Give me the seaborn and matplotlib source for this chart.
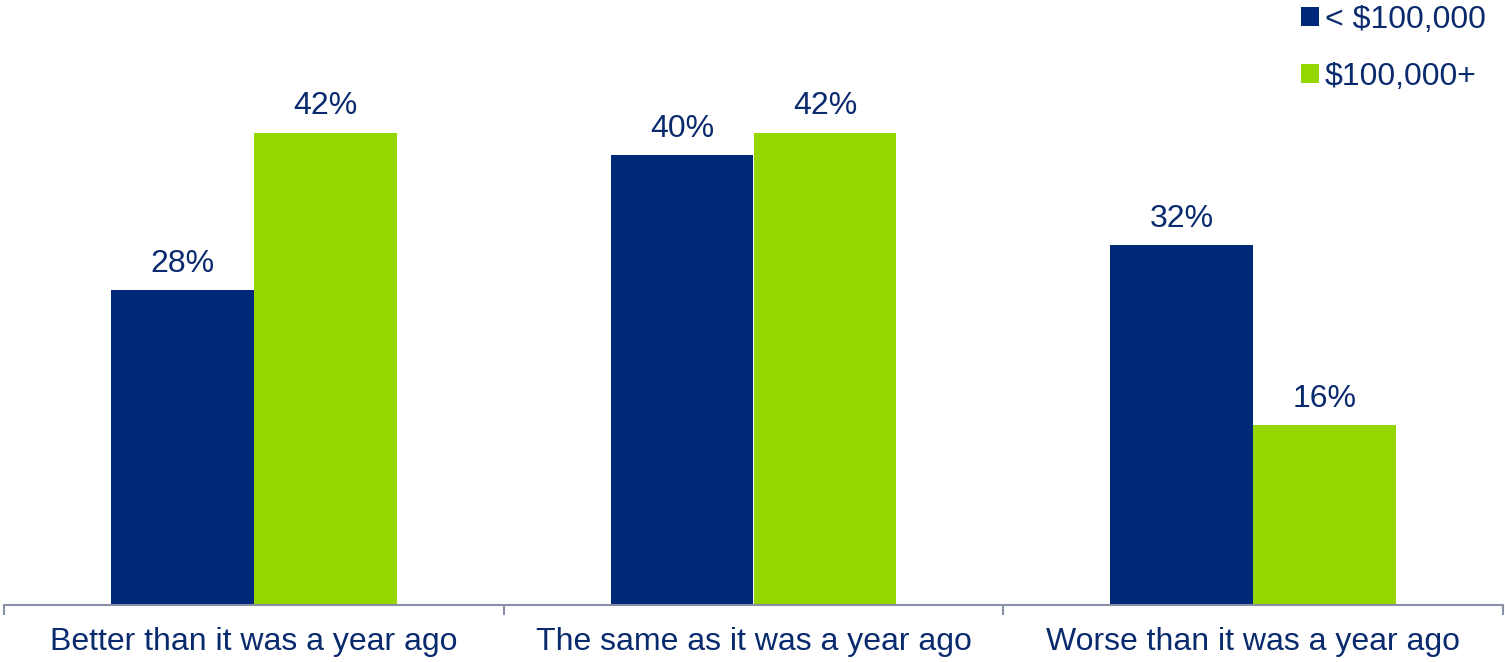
import matplotlib
matplotlib.use("Agg")
import matplotlib.pyplot as plt
import seaborn as sns
import pandas as pd

categories = ["Better than it was a year ago", "The same as it was a year ago", "Worse than it was a year ago"]
groups = ["< $100,000", "$100,000+"]
under_100k = [28, 40, 32]
over_100k = [42, 42, 16]

navy = "#00287A"
green = "#95D600"
text_color = "#0A2A6E"
axis_color = "#8A8FA8"

df = pd.DataFrame({
    "category": categories * 2,
    "group": [groups[0]] * 3 + [groups[1]] * 3,
    "value": under_100k + over_100k,
})

sns.set_style("white")
plt.rcParams["font.family"] = ["Liberation Sans", "DejaVu Sans"]

W, H = 1505, 662
fig = plt.figure(figsize=(W / 100, H / 100), dpi=100)
base_y = 605
px_per_unit = 11.25
ymax = 52
ax = fig.add_axes([4 / W, (H - base_y) / H, (1503 - 4) / W, ymax * px_per_unit / H])

sns.barplot(data=df, x="category", y="value", hue="group", order=categories,
            hue_order=groups, palette=[navy, green], width=0.572, gap=0,
            saturation=1, edgecolor="none", linewidth=0, legend=False, ax=ax)

for cont in ax.containers:
    ax.bar_label(cont, labels=[f"{v:.0f}%" for v in cont.datavalues],
                 padding=8, fontsize=23, color=text_color)

ax.set_xlim(-0.5, 2.5)
ax.set_ylim(0, ymax)
ax.set_xlabel("")
ax.set_ylabel("")
ax.set_yticks([])
for s in ["top", "right", "left"]:
    ax.spines[s].set_visible(False)
ax.spines["bottom"].set_color(axis_color)
ax.spines["bottom"].set_linewidth(1.5)

# category separators as ticks
ax.set_xticks([-0.5, 0.5, 1.5, 2.5], minor=True)
ax.tick_params(axis="x", which="minor", length=7, width=1.5, color=axis_color, direction="out", bottom=True)
ax.tick_params(axis="x", which="major", length=0, labelsize=23, labelcolor=text_color, pad=16)

handles = [plt.Rectangle((0, 0), 1, 1, facecolor=c, edgecolor="none") for c in [navy, green]]
leg = fig.legend(handles, groups, loc="upper left", bbox_to_anchor=(1301 / W, 1 - 5 / H),
                 frameon=False, fontsize=23, handlelength=0.55, handleheight=0.55,
                 handletextpad=0.2, labelspacing=0.85, borderpad=0, borderaxespad=0)
for t in leg.get_texts():
    t.set_color(text_color)

fig.savefig("out.png", dpi=100)
